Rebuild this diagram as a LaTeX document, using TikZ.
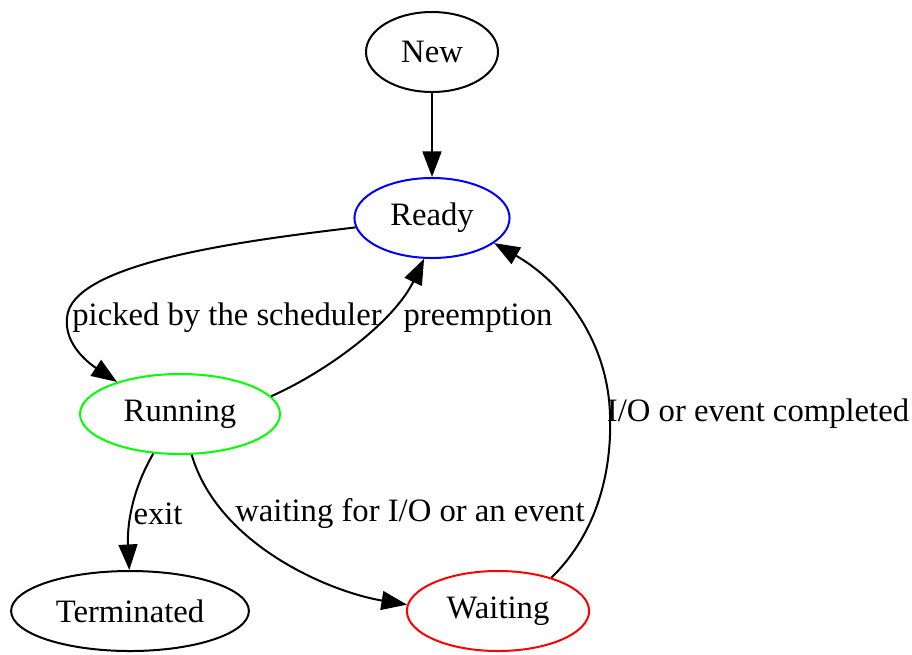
\documentclass[tikz,border=0pt]{standalone}
\usepackage{fontspec}
\setmainfont{Liberation Serif}
\usetikzlibrary{shapes.geometric,arrows.meta}
\begin{document}
\begin{tikzpicture}[x=0.45pt,y=-0.45pt,
  state/.style={ellipse,draw,line width=0.9pt,inner sep=0pt,minimum height=36pt,font=\fontsize{14.7}{17}\selectfont},
  edge/.style={draw,line width=0.9pt,-{Triangle[length=11.5pt,width=8.5pt]}},
  lbl/.style={font=\fontsize{14.7}{17}\selectfont,inner sep=0pt}]
\useasboundingbox (0,0) rectangle (912,654);
\node[state,minimum width=59.4pt] (new) at (432,52) {New};
\node[state,draw={rgb,255:red,0;green,0;blue,255},minimum width=69.8pt] (ready) at (432,218) {Ready};
\node[state,draw={rgb,255:red,0;green,255;blue,0},minimum width=90pt] (run) at (180,414) {Running};
\node[state,minimum width=107pt] (term) at (130,611) {Terminated};
\node[state,draw={rgb,255:red,255;green,0;blue,0},minimum width=82pt] (wait) at (498,611) {Waiting};
\coordinate (wr) at (610,415);
\coordinate (rr) at (67,318);
\draw[edge] (new) -- (ready);
\draw[edge] (ready.187) .. controls (250,240) and (70,262) .. (rr) .. controls (64,345) and (90,364) .. (run.153);
\draw[edge] (run.11) .. controls (330,370) and (395,320) .. (ready.259);
\draw[edge] (run.236) .. controls (132,490) and (127,525) .. (term.91);
\draw[edge] (run.286) .. controls (218,545) and (330,592) .. (wait.176);
\draw[edge] (wait.32) .. controls (598,532) and (612,470) .. (wr) .. controls (608,340) and (562,282) .. (ready.-22);
\node[lbl] (l1) at (227,318) {picked by the scheduler};
\node[lbl] (l2) at (478,318) {preemption};
\node[lbl] (l3) at (158,514) {exit};
\node[lbl] (l4) at (410,514) {waiting for I/O or an event};
\node[lbl] (l5) at (758,414) {I/O or event completed};
\end{tikzpicture}
\end{document}
